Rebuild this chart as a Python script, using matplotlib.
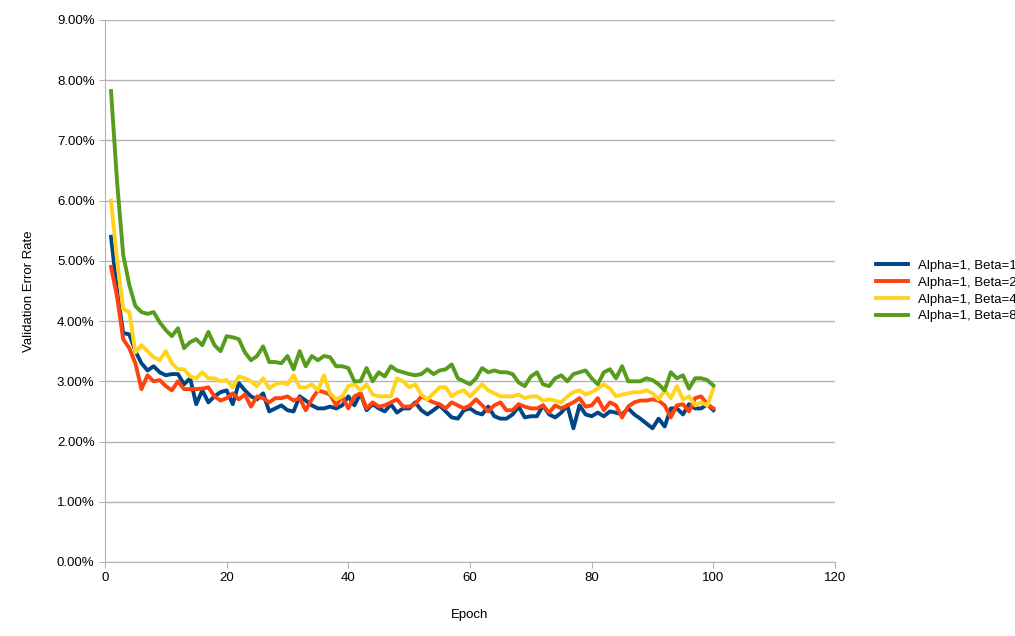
import matplotlib
matplotlib.use("Agg")
import matplotlib.pyplot as plt
from matplotlib.ticker import FuncFormatter

plt.rcParams["font.family"] = ["Liberation Sans", "DejaVu Sans"]

epochs = list(range(1, 101))

beta1 = [5.4, 4.5, 3.8, 3.78, 3.5, 3.3, 3.18, 3.25, 3.15, 3.1, 3.12, 3.12, 2.95, 3.05, 2.62, 2.85, 2.65, 2.75, 2.82, 2.85,
         2.62, 2.97, 2.85, 2.75, 2.7, 2.8, 2.5, 2.55, 2.6, 2.52, 2.5, 2.75, 2.68, 2.6, 2.55, 2.55, 2.58, 2.55, 2.6, 2.75,
         2.6, 2.8, 2.52, 2.62, 2.55, 2.5, 2.62, 2.48, 2.55, 2.55, 2.65, 2.52, 2.45, 2.52, 2.6, 2.5, 2.4, 2.38, 2.52, 2.55,
         2.48, 2.45, 2.58, 2.42, 2.38, 2.38, 2.45, 2.58, 2.4, 2.42, 2.42, 2.6, 2.45, 2.4, 2.48, 2.6, 2.22, 2.6, 2.45, 2.42,
         2.48, 2.42, 2.5, 2.48, 2.45, 2.55, 2.45, 2.38, 2.3, 2.22, 2.38, 2.25, 2.55, 2.55, 2.45, 2.62, 2.55, 2.55, 2.62, 2.52]
beta2 = [4.9, 4.4, 3.7, 3.55, 3.3, 2.87, 3.1, 3.0, 3.02, 2.92, 2.85, 3.0, 2.87, 2.87, 2.87, 2.88, 2.9, 2.75, 2.68, 2.72,
         2.8, 2.7, 2.78, 2.58, 2.75, 2.72, 2.65, 2.72, 2.72, 2.75, 2.68, 2.72, 2.52, 2.7, 2.85, 2.82, 2.78, 2.6, 2.75, 2.55,
         2.75, 2.8, 2.55, 2.65, 2.58, 2.6, 2.65, 2.7, 2.58, 2.58, 2.62, 2.75, 2.7, 2.65, 2.62, 2.55, 2.65, 2.6, 2.55, 2.6,
         2.7, 2.6, 2.5, 2.6, 2.65, 2.52, 2.52, 2.62, 2.58, 2.55, 2.55, 2.6, 2.48, 2.6, 2.55, 2.6, 2.65, 2.72, 2.58, 2.6,
         2.72, 2.52, 2.65, 2.6, 2.4, 2.58, 2.65, 2.68, 2.68, 2.7, 2.68, 2.6, 2.4, 2.6, 2.62, 2.5, 2.72, 2.75, 2.62, 2.55]
beta4 = [6.0, 5.0, 4.2, 4.15, 3.48, 3.6, 3.5, 3.4, 3.35, 3.5, 3.3, 3.2, 3.2, 3.08, 3.05, 3.15, 3.05, 3.05, 3.0, 3.02,
         2.9, 3.08, 3.05, 3.0, 2.92, 3.05, 2.88, 2.95, 2.98, 2.95, 3.1, 2.9, 2.9, 2.95, 2.85, 3.1, 2.8, 2.7, 2.75, 2.92,
         2.95, 2.85, 2.95, 2.78, 2.75, 2.75, 2.75, 3.05, 3.0, 2.9, 2.95, 2.78, 2.7, 2.8, 2.9, 2.9, 2.75, 2.82, 2.85, 2.75,
         2.85, 2.95, 2.85, 2.8, 2.75, 2.75, 2.75, 2.78, 2.72, 2.75, 2.75, 2.68, 2.7, 2.68, 2.65, 2.75, 2.82, 2.85, 2.78, 2.82,
         2.88, 2.95, 2.88, 2.75, 2.78, 2.8, 2.82, 2.82, 2.85, 2.8, 2.7, 2.85, 2.72, 2.92, 2.7, 2.75, 2.6, 2.65, 2.6, 2.88]
beta8 = [7.82, 6.3, 5.1, 4.6, 4.25, 4.15, 4.12, 4.15, 3.98, 3.85, 3.75, 3.88, 3.55, 3.65, 3.7, 3.6, 3.82, 3.6, 3.5, 3.75,
         3.73, 3.7, 3.48, 3.35, 3.42, 3.58, 3.32, 3.32, 3.3, 3.42, 3.2, 3.5, 3.25, 3.42, 3.35, 3.42, 3.4, 3.25, 3.25, 3.22,
         3.0, 3.0, 3.22, 3.0, 3.15, 3.08, 3.25, 3.18, 3.15, 3.12, 3.1, 3.12, 3.2, 3.12, 3.18, 3.2, 3.28, 3.05, 3.0, 2.95,
         3.05, 3.22, 3.15, 3.18, 3.15, 3.15, 3.12, 2.98, 2.92, 3.08, 3.15, 2.95, 2.92, 3.05, 3.1, 3.0, 3.12, 3.15, 3.18, 3.05,
         2.95, 3.15, 3.2, 3.05, 3.25, 3.0, 3.0, 3.0, 3.05, 3.02, 2.95, 2.85, 3.15, 3.05, 3.1, 2.88, 3.05, 3.05, 3.02, 2.93]

series = [
    ("Alpha=1, Beta=1", beta1, "#004586"),
    ("Alpha=1, Beta=2", beta2, "#ff420e"),
    ("Alpha=1, Beta=4", beta4, "#ffd320"),
    ("Alpha=1, Beta=8", beta8, "#579d1c"),
]

fig = plt.figure(figsize=(10.15, 6.36), dpi=100)
ax = fig.add_axes([0.1034, 0.1164, 0.7193, 0.8522])

for label, vals, color in series:
    ax.plot(epochs, vals, color=color, linewidth=2.8, label=label)

ax.set_xlim(0, 120)
ax.set_ylim(0, 9)
ax.set_xticks(range(0, 121, 20))
ax.set_yticks(range(0, 10))
ax.yaxis.set_major_formatter(FuncFormatter(lambda v, _: f"{v:.2f}%"))
ax.grid(axis="y", color="#b3b3b3", linewidth=1)
ax.set_axisbelow(True)
for side in ("top", "right"):
    ax.spines[side].set_visible(False)
for side in ("left", "bottom"):
    ax.spines[side].set_color("#b3b3b3")
ax.tick_params(colors="#b3b3b3", labelcolor="black", labelsize=9.5, length=4)

ax.set_xlabel("Epoch", fontsize=9.5, labelpad=18)
ax.set_ylabel("Validation Error Rate", fontsize=9.5, labelpad=16)

ax.legend(loc="center left", bbox_to_anchor=(1.04, 0.5), frameon=False,
          fontsize=9.5, handlelength=2.4, labelspacing=0.35)

fig.savefig("out.png", dpi=100, facecolor="white")
